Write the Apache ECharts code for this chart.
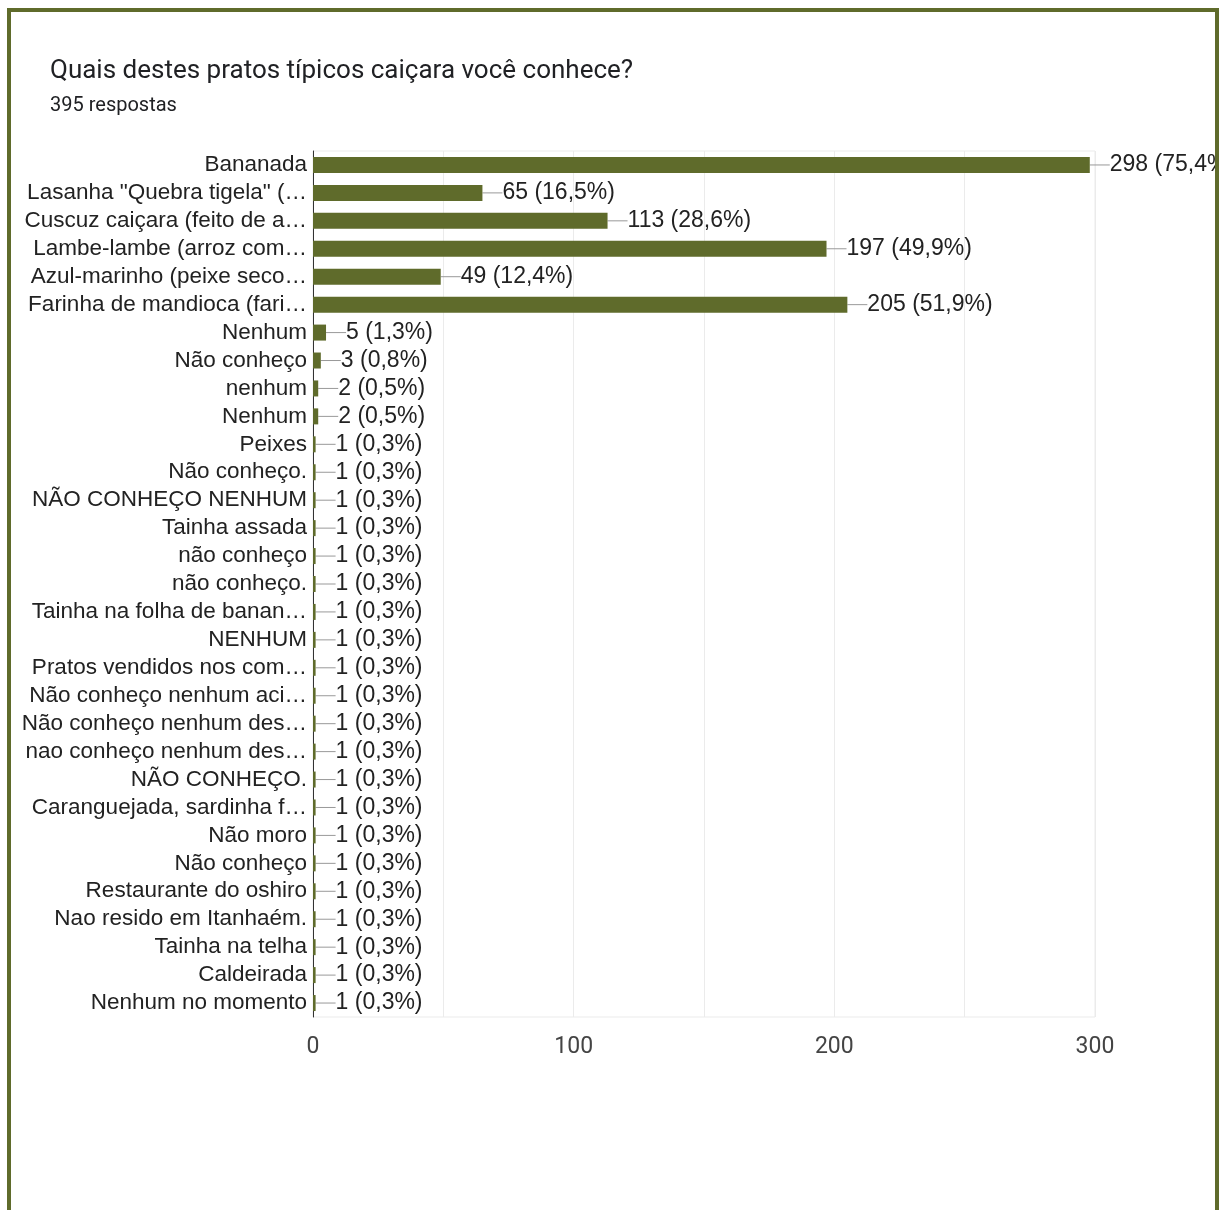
<!DOCTYPE html>
<html>
<head>
<meta charset="utf-8">
<script src="https://cdn.jsdelivr.net/npm/echarts@6/dist/echarts.min.js"></script>
<style>
html,body{margin:0;padding:0;background:#fff;}
#frame{position:absolute;left:7px;top:8px;width:1204px;height:1230px;border-left:4px solid #5f6b2b;border-top:4px solid #5f6b2b;border-right:4px solid #5f6b2b;z-index:2;pointer-events:none;}
#chart{position:absolute;left:0;top:0;width:1219px;height:1210px;z-index:1;}
</style>
</head>
<body>
<div id="frame"></div>
<div id="chart"></div>
<script>
const titleText = 'Quais destes pratos típicos caiçara você conhece?';
const subtitleText = '395 respostas';
const totalResponses = 395;
const categories = [
  'Bananada',
  'Lasanha "Quebra tigela" (…',
  'Cuscuz caiçara (feito de a…',
  'Lambe-lambe (arroz com…',
  'Azul-marinho (peixe seco…',
  'Farinha de mandioca (fari…',
  'Nenhum',
  'Não conheço',
  'nenhum',
  'Nenhum',
  'Peixes',
  'Não conheço.',
  'NÃO CONHEÇO NENHUM',
  'Tainha assada',
  'não conheço',
  'não conheço.',
  'Tainha na folha de banan…',
  'NENHUM',
  'Pratos vendidos nos com…',
  'Não conheço nenhum aci…',
  'Não conheço nenhum des…',
  'nao conheço nenhum des…',
  'NÃO CONHEÇO.',
  'Caranguejada, sardinha f…',
  'Não moro',
  'Não conheço',
  'Restaurante do oshiro',
  'Nao resido em Itanhaém.',
  'Tainha na telha',
  'Caldeirada',
  'Nenhum no momento'
];
const values = [298, 65, 113, 197, 49, 205, 5, 3, 2, 2, 1, 1, 1, 1, 1, 1, 1, 1, 1, 1, 1, 1, 1, 1, 1, 1, 1, 1, 1, 1, 1];
const xTicks = [0, 100, 200, 300];

const chart = echarts.init(document.getElementById('chart'));
const labelFont = '"Liberation Sans", Arial, sans-serif';
chart.setOption({
  animation: false,
  title: {
    text: titleText,
    subtext: subtitleText,
    left: 45,
    top: 53,
    itemGap: 12,
    textStyle: {fontFamily: 'Roboto', fontSize: 26, fontWeight: 'normal', color: '#202124'},
    subtextStyle: {fontFamily: 'Roboto', fontSize: 20, color: '#202124'}
  },
  grid: {left: 313, right: 124, top: 151, bottom: 193, show: true, borderColor: '#ebebeb', borderWidth: 1},
  xAxis: {
    type: 'value',
    min: 0,
    max: 300,
    interval: 50,
    axisLine: {show: false},
    axisTick: {show: false},
    splitLine: {show: true, lineStyle: {color: '#ebebeb', width: 1}},
    axisLabel: {
      fontFamily: 'Roboto', fontSize: 23, color: '#444', margin: 19,
      formatter: v => (xTicks.indexOf(v) >= 0 ? String(v) : '')
    }
  },
  yAxis: {
    type: 'category',
    inverse: true,
    data: categories.map((c, i) => String(i)),
    axisLine: {show: true, lineStyle: {color: '#333', width: 1}},
    axisTick: {show: false},
    axisLabel: {
      interval: 0,
      fontFamily: labelFont, fontSize: 22.5, color: '#222', margin: 6,
      padding: [4, 0, 0, 0],
      formatter: (v, i) => categories[+v]
    }
  },
  series: [{
    type: 'bar',
    data: values,
    barWidth: 16,
    itemStyle: {color: '#5f6b2b'},
    label: {
      show: true,
      position: 'right',
      distance: 20,
      fontFamily: labelFont,
      fontSize: 23,
      color: '#222',
      padding: [4, 0, 0, 0],
      formatter: p => p.value + ' (' + (p.value / totalResponses * 100).toFixed(1).replace('.', ',') + '%)'
    },
    labelLine: {show: true, lineStyle: {color: '#999', width: 1}},
    labelLayout: {dx: 0}
  }]
});
</script>
</body>
</html>
